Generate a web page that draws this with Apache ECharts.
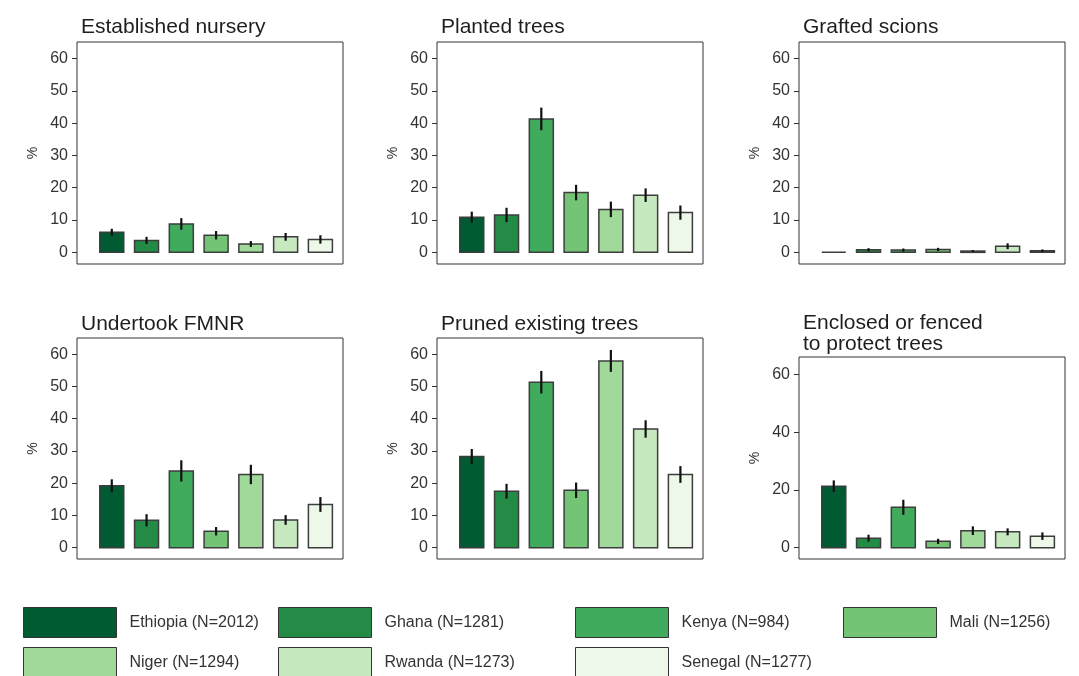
<!DOCTYPE html>
<html><head><meta charset="utf-8">
<script src="https://cdn.jsdelivr.net/npm/echarts@6/dist/echarts.min.js"></script>
<style>html,body{margin:0;padding:0;background:#fff}#c{width:1079px;height:676px}</style>
</head><body><div id="c"></div>
<script>
// ---- data ----
const countries = ['Ethiopia','Ghana','Kenya','Mali','Niger','Rwanda','Senegal'];
const sampleSizes = [2012,1281,984,1256,1294,1273,1277];
const panelTitles = ['Established nursery','Planted trees','Grafted scions','Undertook FMNR','Pruned existing trees','Enclosed or fenced\nto protect trees'];
const establishedNursery    = [6.2, 3.7, 8.8, 5.3, 2.6, 4.8, 4.0];
const establishedNurseryErr = [1.1, 1.1, 1.8, 1.3, 0.9, 1.2, 1.3];
const plantedTrees          = [10.9, 11.6, 41.3, 18.5, 13.3, 17.7, 12.3];
const plantedTreesErr       = [1.7, 2.2, 3.5, 2.4, 2.4, 2.1, 2.2];
const graftedScions         = [0.0, 0.8, 0.7, 0.9, 0.4, 1.9, 0.5];
const graftedScionsErr      = [0.0, 0.5, 0.5, 0.5, 0.3, 0.9, 0.4];
const undertookFMNR         = [19.2, 8.5, 23.8, 5.1, 22.7, 8.6, 13.4];
const undertookFMNRErr      = [2.0, 1.9, 3.3, 1.3, 3.0, 1.5, 2.3];
const prunedTrees           = [28.3, 17.5, 51.3, 17.8, 57.9, 36.8, 22.7];
const prunedTreesErr        = [2.3, 2.3, 3.5, 2.4, 3.4, 2.7, 2.6];
const enclosedTrees         = [21.3, 3.3, 14.0, 2.2, 5.9, 5.5, 4.0];
const enclosedTreesErr      = [2.0, 1.2, 2.6, 0.9, 1.5, 1.2, 1.3];
const yTicksTen    = [0, 10, 20, 30, 40, 50, 60];
const yTicksTwenty = [0, 20, 40, 60];

// ---- styling / layout ----
const colors = ['#005a32','#238b45','#41ab5d','#74c476','#a1d99b','#c7e9c0','#edf8e9'];
const FONT = '"Liberation Sans", Arial, Helvetica, sans-serif';
const panelValues = [establishedNursery, plantedTrees, graftedScions, undertookFMNR, prunedTrees, enclosedTrees];
const panelErrors = [establishedNurseryErr, plantedTreesErr, graftedScionsErr, undertookFMNRErr, prunedTreesErr, enclosedTreesErr];
const panelTicks = [yTicksTen, yTicksTen, yTicksTen, yTicksTen, yTicksTen, yTicksTwenty];
const grids = [
  {left: 77,  top: 42,  width: 266, height: 222},
  {left: 437, top: 42,  width: 266, height: 222},
  {left: 799, top: 42,  width: 266, height: 222},
  {left: 77,  top: 338, width: 266, height: 221},
  {left: 437, top: 338, width: 266, height: 221},
  {left: 799, top: 357, width: 266, height: 202}
];
const yRanges = [[-3.6,65.1],[-3.6,65.1],[-3.6,65.1],[-3.5,65.0],[-3.5,65.0],[-3.9,66.0]];
const titlePos = [[81,17],[441,17],[803,17],[81,314],[441,314],[803,313]];
const legendPos = [[23,607],[278,607],[575,607],[843,607],[23,647],[278,647],[575,647]];
const HALF = 0.345;

function renderBar(params, api){
  const x = api.value(0), v = api.value(1), e = api.value(2);
  const tl = api.coord([x - HALF, v]);
  const br = api.coord([x + HALF, 0]);
  const children = [{
    type:'rect',
    shape:{x: tl[0], y: tl[1], width: br[0]-tl[0], height: br[1]-tl[1]},
    style:{fill: api.visual('color'), stroke:'#3d3d3d', lineWidth:1.5}
  }];
  if (e > 0) {
    const t = api.coord([x, v + e]);
    const b = api.coord([x, Math.max(v - e, 0)]);
    children.push({type:'line', shape:{x1:t[0], y1:t[1], x2:b[0], y2:b[1]}, style:{stroke:'#111', lineWidth:2.2}});
  }
  return {type:'group', children};
}

const seriesNames = countries.map((c,i)=> c + ' (N=' + sampleSizes[i] + ')');
const option = {
  animation:false,
  backgroundColor:'#fff',
  title: panelTitles.map((t,i)=>({
    text:t, left:titlePos[i][0], top:titlePos[i][1], padding:0,
    textStyle:{fontFamily:FONT, fontSize:21, fontWeight:'normal', color:'#1e1e1e', lineHeight:21}
  })),
  grid: grids.map(g=>Object.assign({show:true, borderColor:'#333', borderWidth:1, backgroundColor:'transparent'}, g)),
  xAxis: grids.map((g,i)=>({type:'value', gridIndex:i, min:0, max:7.65, show:false})),
  yAxis: grids.map((g,i)=>({
    type:'value', gridIndex:i, min:yRanges[i][0], max:yRanges[i][1],
    name:'%', nameLocation:'middle', nameGap:37, nameRotate:90,
    nameTextStyle:{fontFamily:FONT, fontSize:14, color:'#333'},
    axisLine:{show:false},
    axisTick:{show:true, inside:false, length:5, lineStyle:{color:'#333'}, customValues:panelTicks[i]},
    axisLabel:{show:true, margin:9, fontFamily:FONT, fontSize:16, color:'#333', customValues:panelTicks[i]},
    splitLine:{show:false}
  })),
  legend: legendPos.map((p,i)=>({
    data:[{name:seriesNames[i], itemStyle:{color:colors[i], borderColor:'#333', borderWidth:1}}],
    left:p[0], top:p[1], padding:0, itemWidth:93, itemHeight:30, icon:'rect',
    selectedMode:false,
    textStyle:{fontFamily:FONT, fontSize:16, color:'#333', padding:[0,0,0,8]}
  })),
  series: []
};
panelValues.forEach((vals, p)=>{
  countries.forEach((c, i)=>{
    option.series.push({
      type:'custom', name:seriesNames[i], xAxisIndex:p, yAxisIndex:p,
      itemStyle:{color:colors[i]},
      renderItem:renderBar,
      encode:{x:0, y:1},
      data:[[i+1, vals[i], panelErrors[p][i]]]
    });
  });
});
const chart = echarts.init(document.getElementById('c'), null, {renderer:'canvas'});
chart.setOption(option);
</script></body></html>
